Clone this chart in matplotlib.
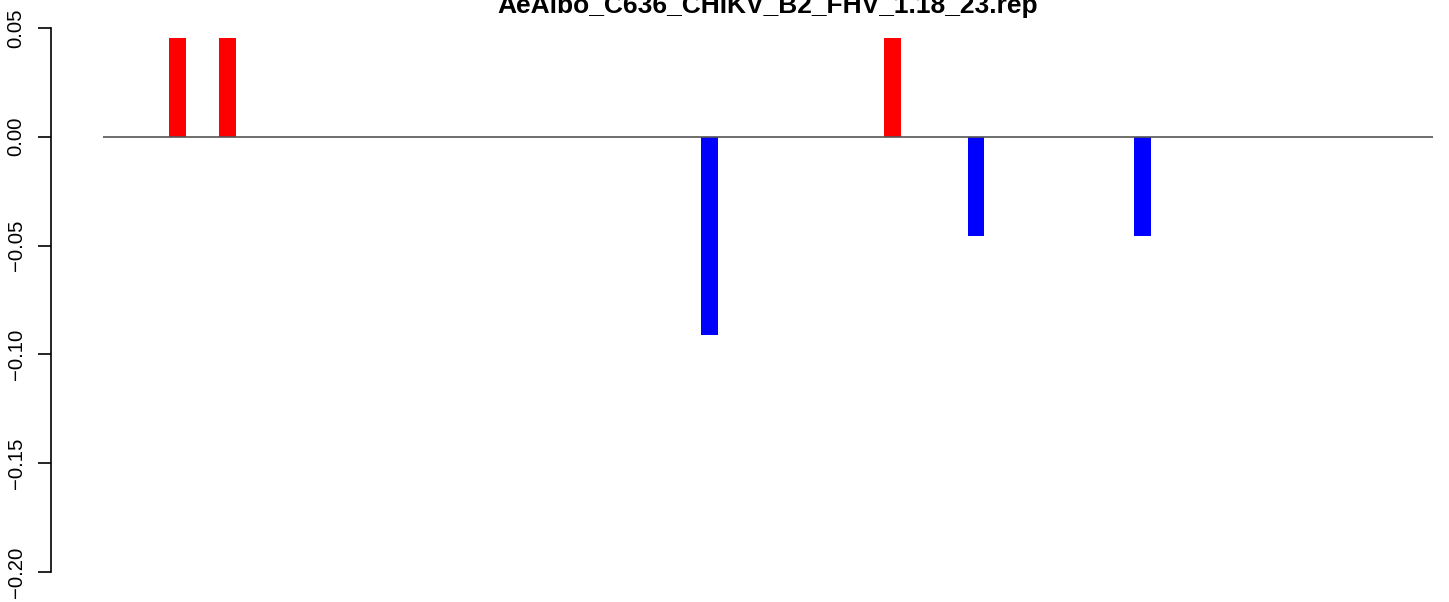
import matplotlib
matplotlib.use("Agg")
import matplotlib.pyplot as plt
import numpy as np

title = "AeAlbo_C636_CHIKV_B2_FHV_1.18_23.rep"
n_bars = 74
bar_index = [1, 4, 33, 44, 49, 59]
bar_value = [0.04545, 0.04545, -0.09091, 0.04545, -0.04545, -0.04545]
yticks = [-0.20, -0.15, -0.10, -0.05, 0.00, 0.05]
ytick_labels = ["\u22120.20", "\u22120.15", "\u22120.10", "\u22120.05", "0.00", "0.05"]

values = np.zeros(n_bars)
for i, v in zip(bar_index, bar_value):
    values[i] = v
colors = ["red" if v > 0 else "blue" for v in values]

plt.rcParams['font.family'] = ['Liberation Sans', 'DejaVu Sans']

W, H = 1449, 602
fig = plt.figure(figsize=(W / 100, H / 100), dpi=100)
left, right = 103.3 / W, 1432.7 / W
bottom, top = 1 - 593.8 / H, 1 - 6.2 / H
ax = fig.add_axes([left, bottom, right - left, top - bottom])

x = np.arange(n_bars)
ax.bar(x, values, width=1.0, align='edge', color=colors, edgecolor='none', linewidth=0)
ax.axhline(0, color='#555555', linewidth=1.2, zorder=3)

ax.set_xlim(-0.04 * n_bars, n_bars * 1.04)
ax.set_ylim(-0.21, 0.06)

for s in ['top', 'right', 'bottom']:
    ax.spines[s].set_visible(False)
ax.spines['left'].set_bounds(-0.2, 0.05)
ax.spines['left'].set_position(('outward', (103.3 - 50.7) * 0.72))
ax.spines['left'].set_linewidth(1.2)
ax.set_xticks([])
ax.set_yticks(yticks)
ax.set_yticklabels(ytick_labels, rotation=90, va='center', fontsize=14.6)
ax.tick_params(axis='y', length=9.5, width=1.2, pad=8.5)

fig.text((left + right) / 2, 1 - 13.5 / H, title, ha='center', va='baseline',
         fontsize=19, fontweight='bold')

fig.savefig("out.png", dpi=100)
